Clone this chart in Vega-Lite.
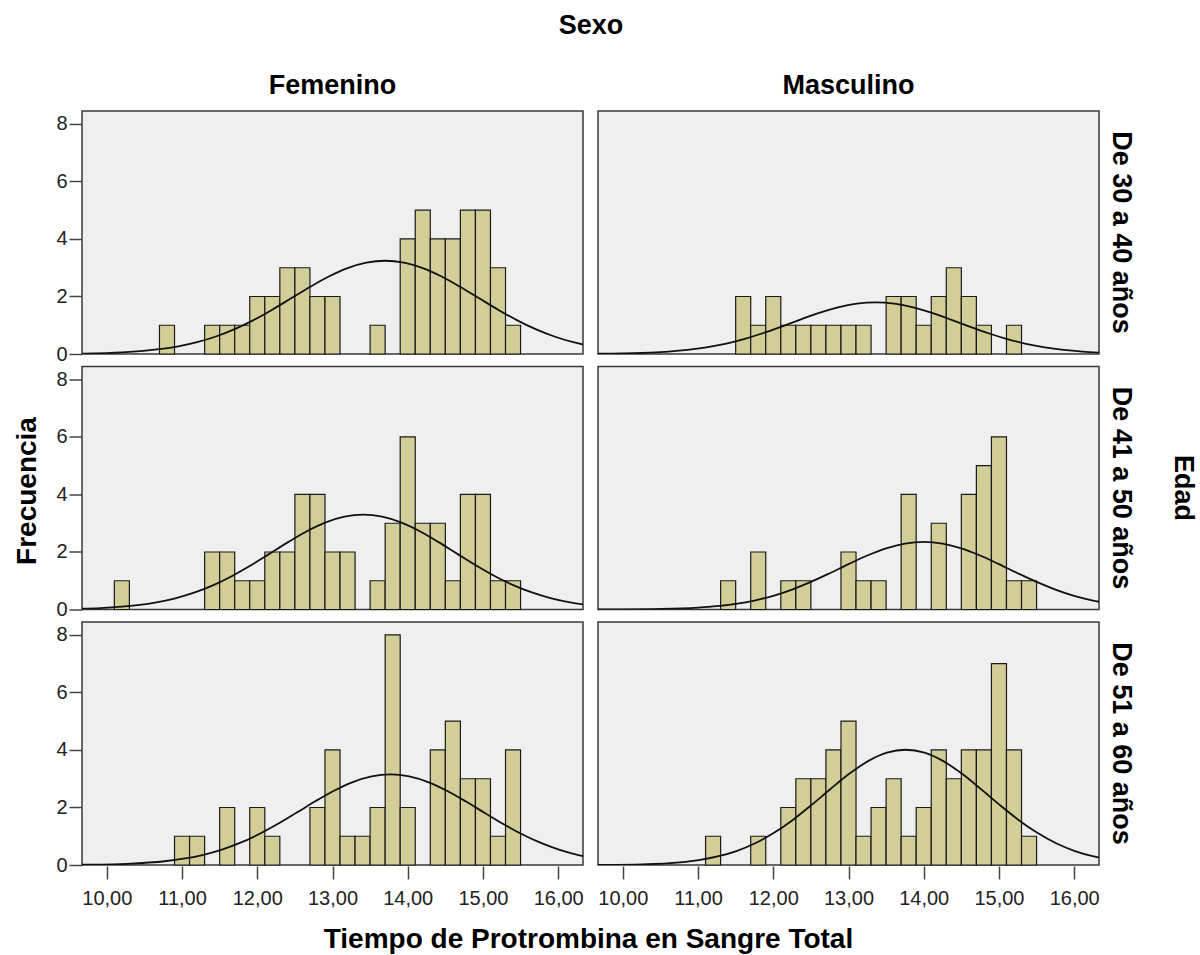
{
  "$schema": "https://vega.github.io/schema/vega-lite/v6.json",
  "padding": {"left": 13, "top": 12, "right": 2, "bottom": 2},
  "background": "#ffffff",
  "title": {"text": "Tiempo de Protrombina en Sangre Total", "orient": "bottom", "anchor": "middle", "font": "Liberation Sans", "fontSize": 28, "fontWeight": "bold", "color": "#000", "offset": 18, "dx": -17},
  "vconcat": [
  {
  "title": {"text": "Frecuencia", "orient": "left", "anchor": "middle", "font": "Liberation Sans", "fontSize": 28, "fontWeight": "bold", "color": "#000", "offset": 14, "dx": -31},
  "bounds": "flush",
  "data": {"values": [
    {"tipo":"barra","sexo":"Femenino","edad":"De 30 a 40 años","desde":10.7,"hasta":10.9,"frecuencia":1},
    {"tipo":"barra","sexo":"Femenino","edad":"De 30 a 40 años","desde":11.3,"hasta":11.5,"frecuencia":1},
    {"tipo":"barra","sexo":"Femenino","edad":"De 30 a 40 años","desde":11.5,"hasta":11.7,"frecuencia":1},
    {"tipo":"barra","sexo":"Femenino","edad":"De 30 a 40 años","desde":11.7,"hasta":11.9,"frecuencia":1},
    {"tipo":"barra","sexo":"Femenino","edad":"De 30 a 40 años","desde":11.9,"hasta":12.1,"frecuencia":2},
    {"tipo":"barra","sexo":"Femenino","edad":"De 30 a 40 años","desde":12.1,"hasta":12.3,"frecuencia":2},
    {"tipo":"barra","sexo":"Femenino","edad":"De 30 a 40 años","desde":12.3,"hasta":12.5,"frecuencia":3},
    {"tipo":"barra","sexo":"Femenino","edad":"De 30 a 40 años","desde":12.5,"hasta":12.7,"frecuencia":3},
    {"tipo":"barra","sexo":"Femenino","edad":"De 30 a 40 años","desde":12.7,"hasta":12.9,"frecuencia":2},
    {"tipo":"barra","sexo":"Femenino","edad":"De 30 a 40 años","desde":12.9,"hasta":13.1,"frecuencia":2},
    {"tipo":"barra","sexo":"Femenino","edad":"De 30 a 40 años","desde":13.5,"hasta":13.7,"frecuencia":1},
    {"tipo":"barra","sexo":"Femenino","edad":"De 30 a 40 años","desde":13.9,"hasta":14.1,"frecuencia":4},
    {"tipo":"barra","sexo":"Femenino","edad":"De 30 a 40 años","desde":14.1,"hasta":14.3,"frecuencia":5},
    {"tipo":"barra","sexo":"Femenino","edad":"De 30 a 40 años","desde":14.3,"hasta":14.5,"frecuencia":4},
    {"tipo":"barra","sexo":"Femenino","edad":"De 30 a 40 años","desde":14.5,"hasta":14.7,"frecuencia":4},
    {"tipo":"barra","sexo":"Femenino","edad":"De 30 a 40 años","desde":14.7,"hasta":14.9,"frecuencia":5},
    {"tipo":"barra","sexo":"Femenino","edad":"De 30 a 40 años","desde":14.9,"hasta":15.1,"frecuencia":5},
    {"tipo":"barra","sexo":"Femenino","edad":"De 30 a 40 años","desde":15.1,"hasta":15.3,"frecuencia":3},
    {"tipo":"barra","sexo":"Femenino","edad":"De 30 a 40 años","desde":15.3,"hasta":15.5,"frecuencia":1},

    {"tipo":"barra","sexo":"Masculino","edad":"De 30 a 40 años","desde":11.5,"hasta":11.7,"frecuencia":2},
    {"tipo":"barra","sexo":"Masculino","edad":"De 30 a 40 años","desde":11.7,"hasta":11.9,"frecuencia":1},
    {"tipo":"barra","sexo":"Masculino","edad":"De 30 a 40 años","desde":11.9,"hasta":12.1,"frecuencia":2},
    {"tipo":"barra","sexo":"Masculino","edad":"De 30 a 40 años","desde":12.1,"hasta":12.3,"frecuencia":1},
    {"tipo":"barra","sexo":"Masculino","edad":"De 30 a 40 años","desde":12.3,"hasta":12.5,"frecuencia":1},
    {"tipo":"barra","sexo":"Masculino","edad":"De 30 a 40 años","desde":12.5,"hasta":12.7,"frecuencia":1},
    {"tipo":"barra","sexo":"Masculino","edad":"De 30 a 40 años","desde":12.7,"hasta":12.9,"frecuencia":1},
    {"tipo":"barra","sexo":"Masculino","edad":"De 30 a 40 años","desde":12.9,"hasta":13.1,"frecuencia":1},
    {"tipo":"barra","sexo":"Masculino","edad":"De 30 a 40 años","desde":13.1,"hasta":13.3,"frecuencia":1},
    {"tipo":"barra","sexo":"Masculino","edad":"De 30 a 40 años","desde":13.5,"hasta":13.7,"frecuencia":2},
    {"tipo":"barra","sexo":"Masculino","edad":"De 30 a 40 años","desde":13.7,"hasta":13.9,"frecuencia":2},
    {"tipo":"barra","sexo":"Masculino","edad":"De 30 a 40 años","desde":13.9,"hasta":14.1,"frecuencia":1},
    {"tipo":"barra","sexo":"Masculino","edad":"De 30 a 40 años","desde":14.1,"hasta":14.3,"frecuencia":2},
    {"tipo":"barra","sexo":"Masculino","edad":"De 30 a 40 años","desde":14.3,"hasta":14.5,"frecuencia":3},
    {"tipo":"barra","sexo":"Masculino","edad":"De 30 a 40 años","desde":14.5,"hasta":14.7,"frecuencia":2},
    {"tipo":"barra","sexo":"Masculino","edad":"De 30 a 40 años","desde":14.7,"hasta":14.9,"frecuencia":1},
    {"tipo":"barra","sexo":"Masculino","edad":"De 30 a 40 años","desde":15.1,"hasta":15.3,"frecuencia":1},

    {"tipo":"barra","sexo":"Femenino","edad":"De 41 a 50 años","desde":10.1,"hasta":10.3,"frecuencia":1},
    {"tipo":"barra","sexo":"Femenino","edad":"De 41 a 50 años","desde":11.3,"hasta":11.5,"frecuencia":2},
    {"tipo":"barra","sexo":"Femenino","edad":"De 41 a 50 años","desde":11.5,"hasta":11.7,"frecuencia":2},
    {"tipo":"barra","sexo":"Femenino","edad":"De 41 a 50 años","desde":11.7,"hasta":11.9,"frecuencia":1},
    {"tipo":"barra","sexo":"Femenino","edad":"De 41 a 50 años","desde":11.9,"hasta":12.1,"frecuencia":1},
    {"tipo":"barra","sexo":"Femenino","edad":"De 41 a 50 años","desde":12.1,"hasta":12.3,"frecuencia":2},
    {"tipo":"barra","sexo":"Femenino","edad":"De 41 a 50 años","desde":12.3,"hasta":12.5,"frecuencia":2},
    {"tipo":"barra","sexo":"Femenino","edad":"De 41 a 50 años","desde":12.5,"hasta":12.7,"frecuencia":4},
    {"tipo":"barra","sexo":"Femenino","edad":"De 41 a 50 años","desde":12.7,"hasta":12.9,"frecuencia":4},
    {"tipo":"barra","sexo":"Femenino","edad":"De 41 a 50 años","desde":12.9,"hasta":13.1,"frecuencia":2},
    {"tipo":"barra","sexo":"Femenino","edad":"De 41 a 50 años","desde":13.1,"hasta":13.3,"frecuencia":2},
    {"tipo":"barra","sexo":"Femenino","edad":"De 41 a 50 años","desde":13.5,"hasta":13.7,"frecuencia":1},
    {"tipo":"barra","sexo":"Femenino","edad":"De 41 a 50 años","desde":13.7,"hasta":13.9,"frecuencia":3},
    {"tipo":"barra","sexo":"Femenino","edad":"De 41 a 50 años","desde":13.9,"hasta":14.1,"frecuencia":6},
    {"tipo":"barra","sexo":"Femenino","edad":"De 41 a 50 años","desde":14.1,"hasta":14.3,"frecuencia":3},
    {"tipo":"barra","sexo":"Femenino","edad":"De 41 a 50 años","desde":14.3,"hasta":14.5,"frecuencia":3},
    {"tipo":"barra","sexo":"Femenino","edad":"De 41 a 50 años","desde":14.5,"hasta":14.7,"frecuencia":1},
    {"tipo":"barra","sexo":"Femenino","edad":"De 41 a 50 años","desde":14.7,"hasta":14.9,"frecuencia":4},
    {"tipo":"barra","sexo":"Femenino","edad":"De 41 a 50 años","desde":14.9,"hasta":15.1,"frecuencia":4},
    {"tipo":"barra","sexo":"Femenino","edad":"De 41 a 50 años","desde":15.1,"hasta":15.3,"frecuencia":1},
    {"tipo":"barra","sexo":"Femenino","edad":"De 41 a 50 años","desde":15.3,"hasta":15.5,"frecuencia":1},

    {"tipo":"barra","sexo":"Masculino","edad":"De 41 a 50 años","desde":11.3,"hasta":11.5,"frecuencia":1},
    {"tipo":"barra","sexo":"Masculino","edad":"De 41 a 50 años","desde":11.7,"hasta":11.9,"frecuencia":2},
    {"tipo":"barra","sexo":"Masculino","edad":"De 41 a 50 años","desde":12.1,"hasta":12.3,"frecuencia":1},
    {"tipo":"barra","sexo":"Masculino","edad":"De 41 a 50 años","desde":12.3,"hasta":12.5,"frecuencia":1},
    {"tipo":"barra","sexo":"Masculino","edad":"De 41 a 50 años","desde":12.9,"hasta":13.1,"frecuencia":2},
    {"tipo":"barra","sexo":"Masculino","edad":"De 41 a 50 años","desde":13.1,"hasta":13.3,"frecuencia":1},
    {"tipo":"barra","sexo":"Masculino","edad":"De 41 a 50 años","desde":13.3,"hasta":13.5,"frecuencia":1},
    {"tipo":"barra","sexo":"Masculino","edad":"De 41 a 50 años","desde":13.7,"hasta":13.9,"frecuencia":4},
    {"tipo":"barra","sexo":"Masculino","edad":"De 41 a 50 años","desde":14.1,"hasta":14.3,"frecuencia":3},
    {"tipo":"barra","sexo":"Masculino","edad":"De 41 a 50 años","desde":14.5,"hasta":14.7,"frecuencia":4},
    {"tipo":"barra","sexo":"Masculino","edad":"De 41 a 50 años","desde":14.7,"hasta":14.9,"frecuencia":5},
    {"tipo":"barra","sexo":"Masculino","edad":"De 41 a 50 años","desde":14.9,"hasta":15.1,"frecuencia":6},
    {"tipo":"barra","sexo":"Masculino","edad":"De 41 a 50 años","desde":15.1,"hasta":15.3,"frecuencia":1},
    {"tipo":"barra","sexo":"Masculino","edad":"De 41 a 50 años","desde":15.3,"hasta":15.5,"frecuencia":1},

    {"tipo":"barra","sexo":"Femenino","edad":"De 51 a 60 años","desde":10.9,"hasta":11.1,"frecuencia":1},
    {"tipo":"barra","sexo":"Femenino","edad":"De 51 a 60 años","desde":11.1,"hasta":11.3,"frecuencia":1},
    {"tipo":"barra","sexo":"Femenino","edad":"De 51 a 60 años","desde":11.5,"hasta":11.7,"frecuencia":2},
    {"tipo":"barra","sexo":"Femenino","edad":"De 51 a 60 años","desde":11.9,"hasta":12.1,"frecuencia":2},
    {"tipo":"barra","sexo":"Femenino","edad":"De 51 a 60 años","desde":12.1,"hasta":12.3,"frecuencia":1},
    {"tipo":"barra","sexo":"Femenino","edad":"De 51 a 60 años","desde":12.7,"hasta":12.9,"frecuencia":2},
    {"tipo":"barra","sexo":"Femenino","edad":"De 51 a 60 años","desde":12.9,"hasta":13.1,"frecuencia":4},
    {"tipo":"barra","sexo":"Femenino","edad":"De 51 a 60 años","desde":13.1,"hasta":13.3,"frecuencia":1},
    {"tipo":"barra","sexo":"Femenino","edad":"De 51 a 60 años","desde":13.3,"hasta":13.5,"frecuencia":1},
    {"tipo":"barra","sexo":"Femenino","edad":"De 51 a 60 años","desde":13.5,"hasta":13.7,"frecuencia":2},
    {"tipo":"barra","sexo":"Femenino","edad":"De 51 a 60 años","desde":13.7,"hasta":13.9,"frecuencia":8},
    {"tipo":"barra","sexo":"Femenino","edad":"De 51 a 60 años","desde":13.9,"hasta":14.1,"frecuencia":2},
    {"tipo":"barra","sexo":"Femenino","edad":"De 51 a 60 años","desde":14.3,"hasta":14.5,"frecuencia":4},
    {"tipo":"barra","sexo":"Femenino","edad":"De 51 a 60 años","desde":14.5,"hasta":14.7,"frecuencia":5},
    {"tipo":"barra","sexo":"Femenino","edad":"De 51 a 60 años","desde":14.7,"hasta":14.9,"frecuencia":3},
    {"tipo":"barra","sexo":"Femenino","edad":"De 51 a 60 años","desde":14.9,"hasta":15.1,"frecuencia":3},
    {"tipo":"barra","sexo":"Femenino","edad":"De 51 a 60 años","desde":15.1,"hasta":15.3,"frecuencia":1},
    {"tipo":"barra","sexo":"Femenino","edad":"De 51 a 60 años","desde":15.3,"hasta":15.5,"frecuencia":4},

    {"tipo":"barra","sexo":"Masculino","edad":"De 51 a 60 años","desde":11.1,"hasta":11.3,"frecuencia":1},
    {"tipo":"barra","sexo":"Masculino","edad":"De 51 a 60 años","desde":11.7,"hasta":11.9,"frecuencia":1},
    {"tipo":"barra","sexo":"Masculino","edad":"De 51 a 60 años","desde":12.1,"hasta":12.3,"frecuencia":2},
    {"tipo":"barra","sexo":"Masculino","edad":"De 51 a 60 años","desde":12.3,"hasta":12.5,"frecuencia":3},
    {"tipo":"barra","sexo":"Masculino","edad":"De 51 a 60 años","desde":12.5,"hasta":12.7,"frecuencia":3},
    {"tipo":"barra","sexo":"Masculino","edad":"De 51 a 60 años","desde":12.7,"hasta":12.9,"frecuencia":4},
    {"tipo":"barra","sexo":"Masculino","edad":"De 51 a 60 años","desde":12.9,"hasta":13.1,"frecuencia":5},
    {"tipo":"barra","sexo":"Masculino","edad":"De 51 a 60 años","desde":13.1,"hasta":13.3,"frecuencia":1},
    {"tipo":"barra","sexo":"Masculino","edad":"De 51 a 60 años","desde":13.3,"hasta":13.5,"frecuencia":2},
    {"tipo":"barra","sexo":"Masculino","edad":"De 51 a 60 años","desde":13.5,"hasta":13.7,"frecuencia":3},
    {"tipo":"barra","sexo":"Masculino","edad":"De 51 a 60 años","desde":13.7,"hasta":13.9,"frecuencia":1},
    {"tipo":"barra","sexo":"Masculino","edad":"De 51 a 60 años","desde":13.9,"hasta":14.1,"frecuencia":2},
    {"tipo":"barra","sexo":"Masculino","edad":"De 51 a 60 años","desde":14.1,"hasta":14.3,"frecuencia":4},
    {"tipo":"barra","sexo":"Masculino","edad":"De 51 a 60 años","desde":14.3,"hasta":14.5,"frecuencia":3},
    {"tipo":"barra","sexo":"Masculino","edad":"De 51 a 60 años","desde":14.5,"hasta":14.7,"frecuencia":4},
    {"tipo":"barra","sexo":"Masculino","edad":"De 51 a 60 años","desde":14.7,"hasta":14.9,"frecuencia":4},
    {"tipo":"barra","sexo":"Masculino","edad":"De 51 a 60 años","desde":14.9,"hasta":15.1,"frecuencia":7},
    {"tipo":"barra","sexo":"Masculino","edad":"De 51 a 60 años","desde":15.1,"hasta":15.3,"frecuencia":4},
    {"tipo":"barra","sexo":"Masculino","edad":"De 51 a 60 años","desde":15.3,"hasta":15.5,"frecuencia":1},

    {"tipo":"curva","sexo":"Femenino","edad":"De 30 a 40 años","x":9.2,"y":0.004},
    {"tipo":"curva","sexo":"Femenino","edad":"De 30 a 40 años","x":9.7,"y":0.016},
    {"tipo":"curva","sexo":"Femenino","edad":"De 30 a 40 años","x":10.2,"y":0.057},
    {"tipo":"curva","sexo":"Femenino","edad":"De 30 a 40 años","x":10.7,"y":0.166},
    {"tipo":"curva","sexo":"Femenino","edad":"De 30 a 40 años","x":10.95,"y":0.266},
    {"tipo":"curva","sexo":"Femenino","edad":"De 30 a 40 años","x":11.2,"y":0.411},
    {"tipo":"curva","sexo":"Femenino","edad":"De 30 a 40 años","x":11.45,"y":0.609},
    {"tipo":"curva","sexo":"Femenino","edad":"De 30 a 40 años","x":11.7,"y":0.865},
    {"tipo":"curva","sexo":"Femenino","edad":"De 30 a 40 años","x":11.95,"y":1.179},
    {"tipo":"curva","sexo":"Femenino","edad":"De 30 a 40 años","x":12.2,"y":1.542},
    {"tipo":"curva","sexo":"Femenino","edad":"De 30 a 40 años","x":12.45,"y":1.935},
    {"tipo":"curva","sexo":"Femenino","edad":"De 30 a 40 años","x":12.7,"y":2.330},
    {"tipo":"curva","sexo":"Femenino","edad":"De 30 a 40 años","x":12.95,"y":2.693},
    {"tipo":"curva","sexo":"Femenino","edad":"De 30 a 40 años","x":13.2,"y":2.986},
    {"tipo":"curva","sexo":"Femenino","edad":"De 30 a 40 años","x":13.45,"y":3.177},
    {"tipo":"curva","sexo":"Femenino","edad":"De 30 a 40 años","x":13.7,"y":3.243},
    {"tipo":"curva","sexo":"Femenino","edad":"De 30 a 40 años","x":13.95,"y":3.177},
    {"tipo":"curva","sexo":"Femenino","edad":"De 30 a 40 años","x":14.2,"y":2.986},
    {"tipo":"curva","sexo":"Femenino","edad":"De 30 a 40 años","x":14.45,"y":2.693},
    {"tipo":"curva","sexo":"Femenino","edad":"De 30 a 40 años","x":14.7,"y":2.330},
    {"tipo":"curva","sexo":"Femenino","edad":"De 30 a 40 años","x":14.95,"y":1.935},
    {"tipo":"curva","sexo":"Femenino","edad":"De 30 a 40 años","x":15.2,"y":1.542},
    {"tipo":"curva","sexo":"Femenino","edad":"De 30 a 40 años","x":15.45,"y":1.179},
    {"tipo":"curva","sexo":"Femenino","edad":"De 30 a 40 años","x":15.7,"y":0.865},
    {"tipo":"curva","sexo":"Femenino","edad":"De 30 a 40 años","x":15.95,"y":0.609},
    {"tipo":"curva","sexo":"Femenino","edad":"De 30 a 40 años","x":16.2,"y":0.411},
    {"tipo":"curva","sexo":"Femenino","edad":"De 30 a 40 años","x":16.45,"y":0.266},

    {"tipo":"curva","sexo":"Masculino","edad":"De 30 a 40 años","x":9.36,"y":0.0027},
    {"tipo":"curva","sexo":"Masculino","edad":"De 30 a 40 años","x":9.86,"y":0.0125},
    {"tipo":"curva","sexo":"Masculino","edad":"De 30 a 40 años","x":10.36,"y":0.0466},
    {"tipo":"curva","sexo":"Masculino","edad":"De 30 a 40 años","x":10.61,"y":0.0835},
    {"tipo":"curva","sexo":"Masculino","edad":"De 30 a 40 años","x":10.86,"y":0.142},
    {"tipo":"curva","sexo":"Masculino","edad":"De 30 a 40 años","x":11.11,"y":0.230},
    {"tipo":"curva","sexo":"Masculino","edad":"De 30 a 40 años","x":11.36,"y":0.354},
    {"tipo":"curva","sexo":"Masculino","edad":"De 30 a 40 años","x":11.61,"y":0.519},
    {"tipo":"curva","sexo":"Masculino","edad":"De 30 a 40 años","x":11.86,"y":0.721},
    {"tipo":"curva","sexo":"Masculino","edad":"De 30 a 40 años","x":12.11,"y":0.953},
    {"tipo":"curva","sexo":"Masculino","edad":"De 30 a 40 años","x":12.36,"y":1.198},
    {"tipo":"curva","sexo":"Masculino","edad":"De 30 a 40 años","x":12.61,"y":1.430},
    {"tipo":"curva","sexo":"Masculino","edad":"De 30 a 40 años","x":12.86,"y":1.624},
    {"tipo":"curva","sexo":"Masculino","edad":"De 30 a 40 años","x":13.11,"y":1.752},
    {"tipo":"curva","sexo":"Masculino","edad":"De 30 a 40 años","x":13.36,"y":1.797},
    {"tipo":"curva","sexo":"Masculino","edad":"De 30 a 40 años","x":13.61,"y":1.752},
    {"tipo":"curva","sexo":"Masculino","edad":"De 30 a 40 años","x":13.86,"y":1.624},
    {"tipo":"curva","sexo":"Masculino","edad":"De 30 a 40 años","x":14.11,"y":1.430},
    {"tipo":"curva","sexo":"Masculino","edad":"De 30 a 40 años","x":14.36,"y":1.198},
    {"tipo":"curva","sexo":"Masculino","edad":"De 30 a 40 años","x":14.61,"y":0.953},
    {"tipo":"curva","sexo":"Masculino","edad":"De 30 a 40 años","x":14.86,"y":0.721},
    {"tipo":"curva","sexo":"Masculino","edad":"De 30 a 40 años","x":15.11,"y":0.519},
    {"tipo":"curva","sexo":"Masculino","edad":"De 30 a 40 años","x":15.36,"y":0.354},
    {"tipo":"curva","sexo":"Masculino","edad":"De 30 a 40 años","x":15.61,"y":0.230},
    {"tipo":"curva","sexo":"Masculino","edad":"De 30 a 40 años","x":15.86,"y":0.142},
    {"tipo":"curva","sexo":"Masculino","edad":"De 30 a 40 años","x":16.11,"y":0.0835},
    {"tipo":"curva","sexo":"Masculino","edad":"De 30 a 40 años","x":16.36,"y":0.0466},

    {"tipo":"curva","sexo":"Femenino","edad":"De 41 a 50 años","x":9.41,"y":0.014},
    {"tipo":"curva","sexo":"Femenino","edad":"De 41 a 50 años","x":9.91,"y":0.050},
    {"tipo":"curva","sexo":"Femenino","edad":"De 41 a 50 años","x":10.41,"y":0.152},
    {"tipo":"curva","sexo":"Femenino","edad":"De 41 a 50 años","x":10.66,"y":0.249},
    {"tipo":"curva","sexo":"Femenino","edad":"De 41 a 50 años","x":10.91,"y":0.390},
    {"tipo":"curva","sexo":"Femenino","edad":"De 41 a 50 años","x":11.16,"y":0.585},
    {"tipo":"curva","sexo":"Femenino","edad":"De 41 a 50 años","x":11.41,"y":0.841},
    {"tipo":"curva","sexo":"Femenino","edad":"De 41 a 50 años","x":11.66,"y":1.158},
    {"tipo":"curva","sexo":"Femenino","edad":"De 41 a 50 años","x":11.91,"y":1.529},
    {"tipo":"curva","sexo":"Femenino","edad":"De 41 a 50 años","x":12.16,"y":1.934},
    {"tipo":"curva","sexo":"Femenino","edad":"De 41 a 50 años","x":12.41,"y":2.343},
    {"tipo":"curva","sexo":"Femenino","edad":"De 41 a 50 años","x":12.66,"y":2.721},
    {"tipo":"curva","sexo":"Femenino","edad":"De 41 a 50 años","x":12.91,"y":3.027},
    {"tipo":"curva","sexo":"Femenino","edad":"De 41 a 50 años","x":13.16,"y":3.227},
    {"tipo":"curva","sexo":"Femenino","edad":"De 41 a 50 años","x":13.41,"y":3.297},
    {"tipo":"curva","sexo":"Femenino","edad":"De 41 a 50 años","x":13.66,"y":3.227},
    {"tipo":"curva","sexo":"Femenino","edad":"De 41 a 50 años","x":13.91,"y":3.027},
    {"tipo":"curva","sexo":"Femenino","edad":"De 41 a 50 años","x":14.16,"y":2.721},
    {"tipo":"curva","sexo":"Femenino","edad":"De 41 a 50 años","x":14.41,"y":2.343},
    {"tipo":"curva","sexo":"Femenino","edad":"De 41 a 50 años","x":14.66,"y":1.934},
    {"tipo":"curva","sexo":"Femenino","edad":"De 41 a 50 años","x":14.91,"y":1.529},
    {"tipo":"curva","sexo":"Femenino","edad":"De 41 a 50 años","x":15.16,"y":1.158},
    {"tipo":"curva","sexo":"Femenino","edad":"De 41 a 50 años","x":15.41,"y":0.841},
    {"tipo":"curva","sexo":"Femenino","edad":"De 41 a 50 años","x":15.66,"y":0.585},
    {"tipo":"curva","sexo":"Femenino","edad":"De 41 a 50 años","x":15.91,"y":0.390},
    {"tipo":"curva","sexo":"Femenino","edad":"De 41 a 50 años","x":16.16,"y":0.249},
    {"tipo":"curva","sexo":"Femenino","edad":"De 41 a 50 años","x":16.41,"y":0.152},

    {"tipo":"curva","sexo":"Masculino","edad":"De 41 a 50 años","x":9.5,"y":0.0007},
    {"tipo":"curva","sexo":"Masculino","edad":"De 41 a 50 años","x":10.0,"y":0.004},
    {"tipo":"curva","sexo":"Masculino","edad":"De 41 a 50 años","x":10.5,"y":0.0178},
    {"tipo":"curva","sexo":"Masculino","edad":"De 41 a 50 años","x":11.0,"y":0.0651},
    {"tipo":"curva","sexo":"Masculino","edad":"De 41 a 50 años","x":11.25,"y":0.115},
    {"tipo":"curva","sexo":"Masculino","edad":"De 41 a 50 años","x":11.5,"y":0.195},
    {"tipo":"curva","sexo":"Masculino","edad":"De 41 a 50 años","x":11.75,"y":0.312},
    {"tipo":"curva","sexo":"Masculino","edad":"De 41 a 50 años","x":12.0,"y":0.477},
    {"tipo":"curva","sexo":"Masculino","edad":"De 41 a 50 años","x":12.25,"y":0.694},
    {"tipo":"curva","sexo":"Masculino","edad":"De 41 a 50 años","x":12.5,"y":0.959},
    {"tipo":"curva","sexo":"Masculino","edad":"De 41 a 50 años","x":12.75,"y":1.261},
    {"tipo":"curva","sexo":"Masculino","edad":"De 41 a 50 años","x":13.0,"y":1.578},
    {"tipo":"curva","sexo":"Masculino","edad":"De 41 a 50 años","x":13.25,"y":1.879},
    {"tipo":"curva","sexo":"Masculino","edad":"De 41 a 50 años","x":13.5,"y":2.128},
    {"tipo":"curva","sexo":"Masculino","edad":"De 41 a 50 años","x":13.75,"y":2.293},
    {"tipo":"curva","sexo":"Masculino","edad":"De 41 a 50 años","x":14.0,"y":2.351},
    {"tipo":"curva","sexo":"Masculino","edad":"De 41 a 50 años","x":14.25,"y":2.293},
    {"tipo":"curva","sexo":"Masculino","edad":"De 41 a 50 años","x":14.5,"y":2.128},
    {"tipo":"curva","sexo":"Masculino","edad":"De 41 a 50 años","x":14.75,"y":1.879},
    {"tipo":"curva","sexo":"Masculino","edad":"De 41 a 50 años","x":15.0,"y":1.578},
    {"tipo":"curva","sexo":"Masculino","edad":"De 41 a 50 años","x":15.25,"y":1.261},
    {"tipo":"curva","sexo":"Masculino","edad":"De 41 a 50 años","x":15.5,"y":0.959},
    {"tipo":"curva","sexo":"Masculino","edad":"De 41 a 50 años","x":15.75,"y":0.694},
    {"tipo":"curva","sexo":"Masculino","edad":"De 41 a 50 años","x":16.0,"y":0.477},
    {"tipo":"curva","sexo":"Masculino","edad":"De 41 a 50 años","x":16.25,"y":0.312},
    {"tipo":"curva","sexo":"Masculino","edad":"De 41 a 50 años","x":16.5,"y":0.195},

    {"tipo":"curva","sexo":"Femenino","edad":"De 51 a 60 años","x":9.27,"y":0.0025},
    {"tipo":"curva","sexo":"Femenino","edad":"De 51 a 60 años","x":9.77,"y":0.0111},
    {"tipo":"curva","sexo":"Femenino","edad":"De 51 a 60 años","x":10.27,"y":0.0417},
    {"tipo":"curva","sexo":"Femenino","edad":"De 51 a 60 años","x":10.77,"y":0.131},
    {"tipo":"curva","sexo":"Femenino","edad":"De 51 a 60 años","x":11.02,"y":0.218},
    {"tipo":"curva","sexo":"Femenino","edad":"De 51 a 60 años","x":11.27,"y":0.347},
    {"tipo":"curva","sexo":"Femenino","edad":"De 51 a 60 años","x":11.52,"y":0.527},
    {"tipo":"curva","sexo":"Femenino","edad":"De 51 a 60 años","x":11.77,"y":0.767},
    {"tipo":"curva","sexo":"Femenino","edad":"De 51 a 60 años","x":12.02,"y":1.069},
    {"tipo":"curva","sexo":"Femenino","edad":"De 51 a 60 años","x":12.27,"y":1.424},
    {"tipo":"curva","sexo":"Femenino","edad":"De 51 a 60 años","x":12.52,"y":1.815},
    {"tipo":"curva","sexo":"Femenino","edad":"De 51 a 60 años","x":12.77,"y":2.214},
    {"tipo":"curva","sexo":"Femenino","edad":"De 51 a 60 años","x":13.02,"y":2.583},
    {"tipo":"curva","sexo":"Femenino","edad":"De 51 a 60 años","x":13.27,"y":2.885},
    {"tipo":"curva","sexo":"Femenino","edad":"De 51 a 60 años","x":13.52,"y":3.082},
    {"tipo":"curva","sexo":"Femenino","edad":"De 51 a 60 años","x":13.77,"y":3.151},
    {"tipo":"curva","sexo":"Femenino","edad":"De 51 a 60 años","x":14.02,"y":3.082},
    {"tipo":"curva","sexo":"Femenino","edad":"De 51 a 60 años","x":14.27,"y":2.885},
    {"tipo":"curva","sexo":"Femenino","edad":"De 51 a 60 años","x":14.52,"y":2.583},
    {"tipo":"curva","sexo":"Femenino","edad":"De 51 a 60 años","x":14.77,"y":2.214},
    {"tipo":"curva","sexo":"Femenino","edad":"De 51 a 60 años","x":15.02,"y":1.815},
    {"tipo":"curva","sexo":"Femenino","edad":"De 51 a 60 años","x":15.27,"y":1.424},
    {"tipo":"curva","sexo":"Femenino","edad":"De 51 a 60 años","x":15.52,"y":1.069},
    {"tipo":"curva","sexo":"Femenino","edad":"De 51 a 60 años","x":15.77,"y":0.767},
    {"tipo":"curva","sexo":"Femenino","edad":"De 51 a 60 años","x":16.02,"y":0.527},
    {"tipo":"curva","sexo":"Femenino","edad":"De 51 a 60 años","x":16.27,"y":0.347},
    {"tipo":"curva","sexo":"Femenino","edad":"De 51 a 60 años","x":16.52,"y":0.218},

    {"tipo":"curva","sexo":"Masculino","edad":"De 51 a 60 años","x":9.26,"y":0.0009},
    {"tipo":"curva","sexo":"Masculino","edad":"De 51 a 60 años","x":9.76,"y":0.0051},
    {"tipo":"curva","sexo":"Masculino","edad":"De 51 a 60 años","x":10.26,"y":0.0242},
    {"tipo":"curva","sexo":"Masculino","edad":"De 51 a 60 años","x":10.76,"y":0.094},
    {"tipo":"curva","sexo":"Masculino","edad":"De 51 a 60 años","x":11.01,"y":0.171},
    {"tipo":"curva","sexo":"Masculino","edad":"De 51 a 60 años","x":11.26,"y":0.296},
    {"tipo":"curva","sexo":"Masculino","edad":"De 51 a 60 años","x":11.51,"y":0.485},
    {"tipo":"curva","sexo":"Masculino","edad":"De 51 a 60 años","x":11.76,"y":0.756},
    {"tipo":"curva","sexo":"Masculino","edad":"De 51 a 60 años","x":12.01,"y":1.118},
    {"tipo":"curva","sexo":"Masculino","edad":"De 51 a 60 años","x":12.26,"y":1.568},
    {"tipo":"curva","sexo":"Masculino","edad":"De 51 a 60 años","x":12.51,"y":2.089},
    {"tipo":"curva","sexo":"Masculino","edad":"De 51 a 60 años","x":12.76,"y":2.641},
    {"tipo":"curva","sexo":"Masculino","edad":"De 51 a 60 años","x":13.01,"y":3.170},
    {"tipo":"curva","sexo":"Masculino","edad":"De 51 a 60 años","x":13.26,"y":3.611},
    {"tipo":"curva","sexo":"Masculino","edad":"De 51 a 60 años","x":13.51,"y":3.905},
    {"tipo":"curva","sexo":"Masculino","edad":"De 51 a 60 años","x":13.76,"y":4.008},
    {"tipo":"curva","sexo":"Masculino","edad":"De 51 a 60 años","x":14.01,"y":3.905},
    {"tipo":"curva","sexo":"Masculino","edad":"De 51 a 60 años","x":14.26,"y":3.611},
    {"tipo":"curva","sexo":"Masculino","edad":"De 51 a 60 años","x":14.51,"y":3.170},
    {"tipo":"curva","sexo":"Masculino","edad":"De 51 a 60 años","x":14.76,"y":2.641},
    {"tipo":"curva","sexo":"Masculino","edad":"De 51 a 60 años","x":15.01,"y":2.089},
    {"tipo":"curva","sexo":"Masculino","edad":"De 51 a 60 años","x":15.26,"y":1.568},
    {"tipo":"curva","sexo":"Masculino","edad":"De 51 a 60 años","x":15.51,"y":1.118},
    {"tipo":"curva","sexo":"Masculino","edad":"De 51 a 60 años","x":15.76,"y":0.756},
    {"tipo":"curva","sexo":"Masculino","edad":"De 51 a 60 años","x":16.01,"y":0.485},
    {"tipo":"curva","sexo":"Masculino","edad":"De 51 a 60 años","x":16.26,"y":0.296},
    {"tipo":"curva","sexo":"Masculino","edad":"De 51 a 60 años","x":16.51,"y":0.171}
  ]},
  "facet": {
    "column": {
      "field": "sexo", "type": "nominal",
      "header": {
        "title": "Sexo", "titleFont": "Liberation Sans", "titleFontSize": 27, "titleFontWeight": "bold", "titleColor": "#000", "titlePadding": 22,
        "labelFont": "Liberation Sans", "labelFontSize": 27, "labelFontWeight": "bold", "labelColor": "#000", "labelPadding": 11
      }
    },
    "row": {
      "field": "edad", "type": "nominal",
      "header": {
        "title": "Edad", "titleOrient": "right", "titleAngle": 90, "titleFont": "Liberation Sans", "titleFontSize": 27, "titleFontWeight": "bold", "titleColor": "#000", "titlePadding": 24,
        "labelOrient": "right", "labelAngle": 90, "labelFont": "Liberation Sans", "labelFontSize": 27, "labelFontWeight": "bold", "labelColor": "#000", "labelPadding": 8
      }
    }
  },
  "spacing": {"row": 12.5, "column": 15},
  "spec": {
    "width": 501,
    "height": 243,
    "layer": [
      {
        "transform": [{"filter": "datum.tipo === 'barra'"}],
        "mark": {"type": "rect", "fill": "#D3CE97", "stroke": "#1a1a1a", "strokeWidth": 1.2},
        "encoding": {
          "x": {
            "field": "desde", "type": "quantitative",
            "scale": {"domain": [9.67, 16.33], "nice": false, "zero": false},
            "axis": {
              "title": null,
              "values": [10, 11, 12, 13, 14, 15, 16],
              "labelExpr": "replace(format(datum.value, '.2f'), '.', ',')",
              "grid": false, "domain": false,
              "tickSize": 13, "tickWidth": 1.5, "tickColor": "#444", "offset": 1,
              "labelFont": "Liberation Sans", "labelFontSize": 20, "labelColor": "#222", "labelPadding": 9
            }
          },
          "x2": {"field": "hasta"},
          "y": {
            "field": "frecuencia", "type": "quantitative",
            "scale": {"domain": [0, 8.45], "nice": false},
            "axis": {
              "title": null,
              "values": [0, 2, 4, 6, 8],
              "grid": false, "domain": false,
              "tickSize": 13, "tickWidth": 1.5, "tickColor": "#444",
              "labelFont": "Liberation Sans", "labelFontSize": 20, "labelColor": "#222", "labelPadding": 2
            }
          },
          "y2": {"datum": 0}
        }
      },
      {
        "transform": [{"filter": "datum.tipo === 'curva'"}],
        "mark": {"type": "line", "color": "#111", "strokeWidth": 1.8, "interpolate": "monotone", "clip": true},
        "encoding": {
          "x": {"field": "x", "type": "quantitative"},
          "y": {"field": "y", "type": "quantitative"},
          "order": {"field": "x", "type": "quantitative"}
        }
      }
    ]
  }
  }
  ],
  "config": {
    "view": {"fill": "#EFEFEF", "stroke": "#3a3a3a", "strokeWidth": 1.5}
  }
}
